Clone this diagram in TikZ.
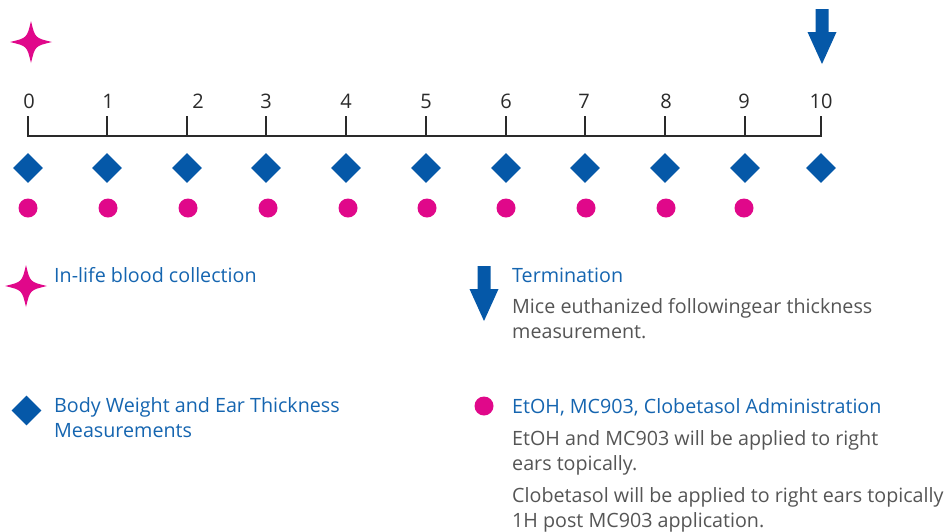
\documentclass[tikz,border=0pt]{standalone}
\usepackage{fontspec}
\setmainfont{Open Sans}
\usetikzlibrary{shapes.geometric}
\definecolor{markblue}{HTML}{0558A8}
\definecolor{markpink}{HTML}{E0088A}
\definecolor{titleblue}{HTML}{1565B0}
\definecolor{bodygray}{HTML}{555555}
\definecolor{axisgray}{HTML}{2A2A2A}

\tikzset{
  daymark/.style={diamond,fill=markblue,inner sep=0pt,minimum size=30pt},
  dosemark/.style={circle,fill=markpink,inner sep=0pt,minimum size=19pt},
  daylabel/.style={inner sep=0pt,text=axisgray,font=\fontsize{20}{20}\selectfont},
  legtitle/.style={anchor=base west,inner sep=0pt,text=titleblue,align=left,
                   font=\fontsize{19.7}{25}\selectfont},
  legtext/.style={anchor=base west,inner sep=0pt,text=bodygray,align=left,
                  font=\fontsize{19.7}{25}\selectfont},
  sparkle/.pic={\fill[markpink] (0,-21) .. controls (4,-4) .. (21,0)
                  .. controls (4,4) .. (0,21) .. controls (-4,4) .. (-21,0)
                  .. controls (-4,-4) .. (0,-21) -- cycle;},
  stoparrow/.pic={\fill[markblue] (-6.5,0) -- (6.5,0) -- (6.5,23) -- (14.5,23)
                  -- (0,55) -- (-14.5,23) -- (-6.5,23) -- cycle;}
}

\begin{document}
\begin{tikzpicture}[x=1pt,y=-1pt]
   \useasboundingbox (0,0) rectangle (949,531);

   % timeline
   \draw[axisgray,line width=2.6pt] (28,136) -- (822,136);
   \foreach \d/\x/\lx in {0/28/29,1/107/108,2/187/198,3/266/266,4/346/346,
                          5/426/426,6/506/506,7/585/584,8/665/666,9/745/744,10/821/821}{
   \draw[axisgray,line width=2.6pt] (\x,116) -- (\x,137);
   \node[daylabel] (day\d) at (\lx,101) {\d};
   \node[daymark] (bw\d) at (\x,168) {};
   }
   \foreach \d/\x in {0/28,1/108,2/188,3/268,4/348,5/427,6/506,7/586,8/666,9/744}{
   \node[dosemark] (dose\d) at (\x,208) {};
   }

   \pic at (31,42) {sparkle};
   \pic at (822,9) {stoparrow};

   % legend
   \pic at (26,286) {sparkle};
   \node[legtitle] (bloodtxt) at (54,282) {In-life blood collection};

   \pic at (484,266) {stoparrow};
   \node[legtitle] (termtxt) at (512,282) {Termination};
   % multi-line nodes sit on their last baseline
   \node[legtext] (termdesc) at (512,338) {Mice euthanized followingear thickness\\measurement.};

   \node[daymark] (legbw) at (26.5,410.5) {};
   \node[legtitle] (bwtxt) at (54,437) {Body Weight and Ear Thickness\\Measurements};

   \node[dosemark] (legdose) at (484,406) {};
   \node[legtitle] (dosetxt) at (512,413) {EtOH, MC903, Clobetasol Administration};
   \node[legtext] (dosedesc) at (512,470) {EtOH and MC903 will be applied to right\\ears topically.};
   \node[legtext] (dosenote) at (512,527) {Clobetasol will be applied to right ears topically\\1H post MC903 application.};
\end{tikzpicture}
\end{document}
